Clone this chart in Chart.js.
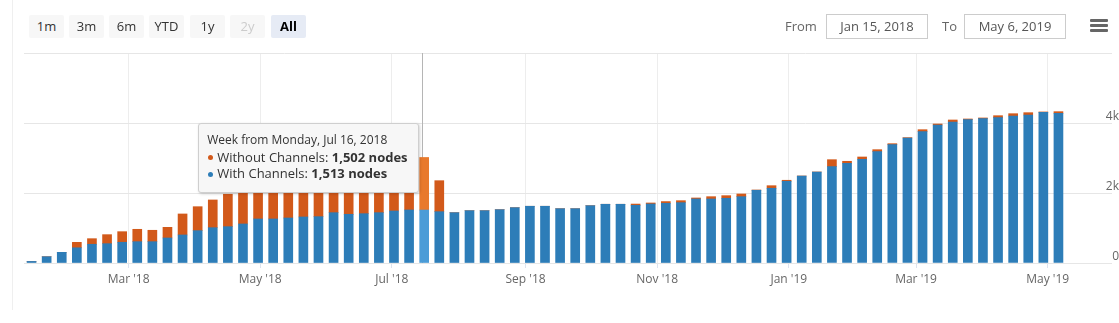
<!DOCTYPE html>
<html>
<head>
<meta charset="utf-8">
<script src="https://cdn.jsdelivr.net/npm/chart.js@4.4.1/dist/chart.umd.min.js"></script>
<style>
  html, body { margin: 0; padding: 0; background: #fff; }
  body { width: 1119px; height: 323px; position: relative; overflow: hidden; font-family: 'Open Sans', sans-serif; }
  #wrap { position: absolute; left: 0; top: 0; width: 1119px; height: 323px; }
  .edge { position: absolute; left: 12px; top: 0; width: 1px; height: 310px; background: #efefef; }
  .btn { position: absolute; top: 15px; width: 35px; height: 23px; line-height: 23px; background: #f7f7f7; color: #333;
         font-size: 13px; text-align: center; border-radius: 2px; }
  .btn.off { color: #cccccc; }
  .btn.on { background: #e6ebf5; color: #000; font-weight: 700; }
  .lbl { position: absolute; top: 15px; height: 23px; line-height: 23px; font-size: 13px; color: #666; }
  .box { position: absolute; top: 14px; width: 100px; height: 23px; line-height: 23px; border: 1px solid #cccccc;
         font-size: 13px; color: #555; text-align: center; }
  .menu { position: absolute; left: 1090px; width: 18px; height: 3px; background: #666; border-radius: 1px; }
  #tip { position: absolute; background: #f7f7f7; border: 1px solid #cfcfcf; border-radius: 3px;
         box-shadow: 1px 1px 3px rgba(0,0,0,0.18); padding: 8px 10px 10px 8px; font-size: 13px; line-height: 16.5px;
         color: #333; white-space: nowrap; }
  #tip .head { font-size: 12px; }
  #tip .dot { display: inline-block; width: 5px; height: 5px; border-radius: 50%; margin: 0 4px 1px 1px; vertical-align: middle; }
</style>
</head>
<body>
<div id="wrap"><canvas id="c"></canvas></div>
<div class="edge"></div>

<div class="btn" style="left:29px">1m</div>
<div class="btn" style="left:69px">3m</div>
<div class="btn" style="left:109px">6m</div>
<div class="btn" style="left:149px">YTD</div>
<div class="btn" style="left:190px">1y</div>
<div class="btn off" style="left:230px">2y</div>
<div class="btn on" style="left:271px">All</div>

<div class="lbl" style="left:785px">From</div>
<div class="box" style="left:826px">Jan 15, 2018</div>
<div class="lbl" style="left:942px">To</div>
<div class="box" style="left:964px">May 6, 2019</div>
<div class="menu" style="top:19px"></div>
<div class="menu" style="top:24px"></div>
<div class="menu" style="top:29px"></div>

<div id="tip"></div>

<script>
// Weekly node counts, one value per week starting Monday, Jan 15, 2018
const withChannels = [
  45, 180, 305, 435, 535, 552, 592, 609, 609, 715,
  801, 924, 1009, 1038, 1115, 1258, 1258, 1286, 1315, 1324,
  1438, 1392, 1409, 1438, 1486, 1515, 1513, 1466, 1438, 1495,
  1495, 1524, 1581, 1621, 1621, 1552, 1552, 1638, 1678, 1678,
  1649, 1686, 1706, 1724, 1829, 1829, 1849, 1895, 2078, 2135,
  2335, 2486, 2601, 2752, 2849, 2964, 3181, 3381, 3572, 3752,
  3944, 4029, 4095, 4124, 4152, 4201, 4229, 4306, 4278
];
const withoutChannels = [
  0, 0, 0, 155, 160, 258, 303, 354, 326, 305,
  600, 685, 792, 926, 923, 832, 862, 864, 855, 866,
  772, 838, 841, 832, 804, 785, 1502, 886, 0, 0,
  0, 0, 0, 0, 0, 0, 0, 0, 0, 0,
  35, 29, 49, 57, 29, 66, 75, 77, 8, 74,
  29, 0, 0, 200, 57, 65, 57, 28, 10, 57,
  28, 57, 20, 20, 57, 65, 66, 10, 46
];

// x-axis month ticks
const tickDates = ['2018-03-01', '2018-05-01', '2018-07-01', '2018-09-01', '2018-11-01', '2019-01-01', '2019-03-01', '2019-05-01'];
const tickLabels = ["Mar '18", "May '18", "Jul '18", "Sep '18", "Nov '18", "Jan '19", "Mar '19", "May '19"];

// y-axis ticks
const yTicks = [0, 2000, 4000, 6000];
const yTickLabels = ['0', '2k', '4k', ''];

const firstWeek = Date.UTC(2018, 0, 15);
const activeWeek = 26;
const monthNames = ['Jan', 'Feb', 'Mar', 'Apr', 'May', 'Jun', 'Jul', 'Aug', 'Sep', 'Oct', 'Nov', 'Dec'];

const BLUE = '#2d7db8', BLUE_HI = '#4b9cd7';
const ORANGE = '#d2591a', ORANGE_HI = '#e8792c';

const weekPos = d => (Date.parse(d + 'T00:00:00Z') - firstWeek) / (7 * 864e5);
const toPoints = arr => arr.map((v, i) => ({ x: i, y: v }));

// tooltip content for the highlighted week
(function buildTip() {
  const d = new Date(firstWeek + activeWeek * 7 * 864e5);
  const title = 'Week from Monday, ' + monthNames[d.getUTCMonth()] + ' ' + d.getUTCDate() + ', ' + d.getUTCFullYear();
  const fmt = v => v.toLocaleString('en-US');
  document.getElementById('tip').innerHTML =
    '<div class="head">' + title + '</div>' +
    '<div><span class="dot" style="background:' + ORANGE + '"></span>Without Channels: <b>' + fmt(withoutChannels[activeWeek]) + ' nodes</b></div>' +
    '<div><span class="dot" style="background:' + BLUE + '"></span>With Channels: <b>' + fmt(withChannels[activeWeek]) + ' nodes</b></div>';
})();

// crosshair behind the bars, tooltip box placed left of the hovered week
const hoverWeek = {
  id: 'hoverWeek',
  beforeDatasetsDraw(chart) {
    const { ctx, chartArea, scales } = chart;
    const x = Math.round(scales.x.getPixelForValue(activeWeek)) - 1.5;
    ctx.save();
    ctx.strokeStyle = '#b5b5b5';
    ctx.lineWidth = 1;
    ctx.beginPath();
    ctx.moveTo(x, chartArea.top);
    ctx.lineTo(x, chartArea.bottom);
    ctx.stroke();
    ctx.restore();
  },
  afterDraw(chart) {
    const tip = document.getElementById('tip');
    const x = chart.scales.x.getPixelForValue(activeWeek);
    tip.style.left = (x - tip.offsetWidth - 6) + 'px';
    tip.style.top = (chart.chartArea.top + 70) + 'px';
  }
};

const font = { family: 'Open Sans', size: 12 };

new Chart(document.getElementById('c'), {
  type: 'bar',
  data: {
    datasets: [
      {
        label: 'With Channels',
        data: toPoints(withChannels),
        backgroundColor: ctx => ctx.dataIndex === activeWeek ? BLUE_HI : BLUE,
        barThickness: 9,
        borderWidth: 0
      },
      {
        label: 'Without Channels',
        data: toPoints(withoutChannels),
        backgroundColor: ctx => ctx.dataIndex === activeWeek ? ORANGE_HI : ORANGE,
        barThickness: 9,
        borderWidth: 0
      }
    ]
  },
  options: {
    responsive: true,
    maintainAspectRatio: false,
    animation: false,
    events: [],
    layout: { padding: { left: 24, top: 53, right: 0, bottom: 30 } },
    plugins: { legend: { display: false }, tooltip: { enabled: false } },
    scales: {
      x: {
        type: 'linear',
        min: -0.5,
        max: 68.5,
        stacked: true,
        offset: false,
        afterBuildTicks: s => { s.ticks = tickDates.map(d => ({ value: weekPos(d) })); },
        afterFit: s => { s.height = 30; },
        grid: { offset: false, color: '#ededed', drawTicks: true, tickLength: 5, tickColor: '#dde3ee' },
        border: { display: false },
        ticks: {
          autoSkip: false, maxRotation: 0, padding: 4, color: '#666', font,
          callback: (v, i) => tickLabels[i]
        }
      },
      y: {
        position: 'right',
        min: 0,
        max: 6000,
        stacked: true,
        afterBuildTicks: s => { s.ticks = yTicks.map(v => ({ value: v })); },
        afterFit: s => { s.width = 53; },
        grid: { color: '#e6e6e6', drawTicks: true, tickLength: 46, tickColor: '#e6e6e6' },
        border: { display: false },
        ticks: {
          crossAlign: 'far', padding: -10, labelOffset: -6, color: '#666', font,
          callback: (v, i) => yTickLabels[i]
        }
      }
    }
  },
  plugins: [hoverWeek]
});
</script>
</body>
</html>
